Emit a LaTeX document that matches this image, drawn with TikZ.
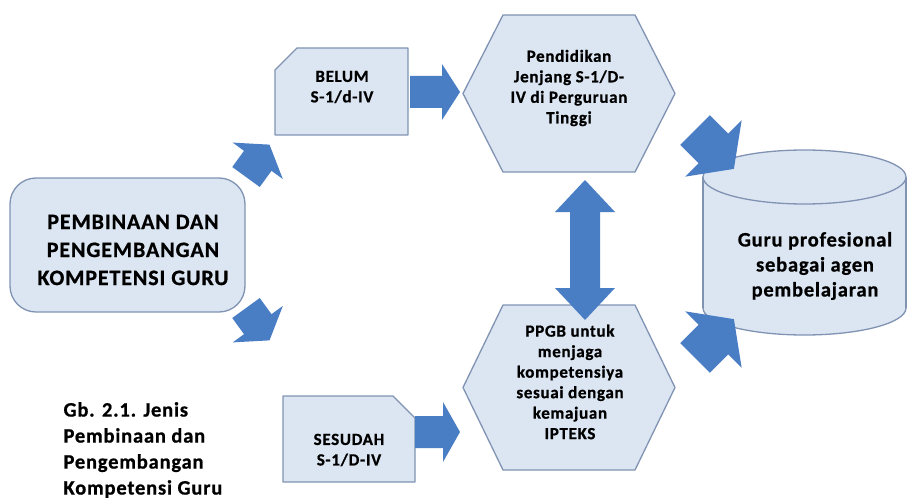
\documentclass[tikz,border=0pt]{standalone}
\usepackage{fontspec}
\setmainfont{Carlito}[BoldFeatures={LetterSpace=4.0, FakeBold=0.8}]
\definecolor{boxfill}{HTML}{DCE6F2}
\definecolor{edgecol}{HTML}{8093B3}
\definecolor{arrowblue}{HTML}{4A7EC4}
% block arrow: #1 tail centre, #2 angle, #3 shaft length, #4 head length,
% #5 shaft half width, #6 head half width
\newcommand{\blockarrow}[6]{%
  \begin{scope}[shift={#1}, rotate=#2]
    \fill[arrowblue] (0,-#5) -- (#3,-#5) -- (#3,-#6) -- ({#3+#4},0)
      -- (#3,#6) -- (#3,#5) -- (0,#5) -- cycle;
  \end{scope}}
\begin{document}
\begin{tikzpicture}[x=1pt,y=-1pt,
  shapeline/.style={draw=edgecol, fill=boxfill, line width=1.3pt, line join=round},
  bigtext/.style={align=center, font=\fontsize{22}{28}\selectfont\bfseries},
  midtext/.style={align=center, font=\fontsize{20.5}{25}\selectfont\bfseries},
  smalltext/.style={align=center, font=\fontsize{17}{20.5}\selectfont\bfseries},
  captext/.style={align=left, font=\fontsize{20.5}{26}\selectfont\bfseries}]
\useasboundingbox (0,0) rectangle (921,500);

% starting box
\node[shapeline, rounded corners=26pt, minimum width=235pt, minimum height=134pt] (start) at (127.5,245) {};
\node[bigtext] (starttext) at (133,250) {PEMBINAAN DAN\\PENGEMBANGAN\\KOMPETENSI GURU};

% "belum" card, top-left corner cut off
\draw[shapeline] (275,70) -- (297,48) -- (408,48) -- (408,135) -- (275,135) -- cycle;
\node[smalltext] (belum) at (342,87) {BELUM\\S-1/d-IV};

% "sesudah" card, top-right corner cut off
\draw[shapeline] (283,396) -- (393,396) -- (415,418) -- (415,482) -- (283,482) -- cycle;
\node[smalltext] (sesudah) at (349,450) {SESUDAH\\S-1/D-IV};

% upper hexagon
\draw[shapeline] (463,93.5) -- (503,15) -- (635,15) -- (675,93.5) -- (635,172) -- (503,172) -- cycle;
\node[smalltext] (pendidikan) at (569,88) {Pendidikan\\Jenjang S-1/D-\\IV di Perguruan\\Tinggi};

% lower hexagon
\draw[shapeline] (463,387.5) -- (503,305) -- (635,305) -- (675,387.5) -- (635,470) -- (503,470) -- cycle;
\node[smalltext] (ppgb) at (570,382) {PPGB untuk\\menjaga\\kompetensiya\\sesuai dengan\\kemajuan\\IPTEKS};

% cylinder
\fill[boxfill, draw=edgecol, line width=1.3pt] (804.5,308) ellipse [x radius=101.5, y radius=27];
\fill[boxfill] (703,177) rectangle (906,308);
\draw[edgecol, line width=1.3pt] (703,177) -- (703,308) (906,177) -- (906,308);
\fill[boxfill, draw=edgecol, line width=1.3pt] (804.5,177) ellipse [x radius=101.5, y radius=27];
\node[midtext] (guru) at (815,266) {Guru profesional\\sebagai agen\\pembelajaran};

% caption
\node[captext, anchor=west] (caption) at (60,450) {Gb. 2.1. Jenis\\Pembinaan dan\\Pengembangan\\Kompetensi Guru};

% block arrows
\blockarrow{(246,177)}{54}{20}{20}{17}{31}
\blockarrow{(246,308)}{-54}{20}{20}{17}{31}
\blockarrow{(410,92)}{0}{32}{18}{16}{28}
\blockarrow{(415,432)}{0}{28}{17}{16}{30}
\blockarrow{(695,130)}{-45}{26}{29}{21}{40}
\blockarrow{(695,358)}{45}{26}{29}{21}{40}

% two-way arrow between the hexagons
\fill[arrowblue] (585,180) -- (615,212) -- (600,212) -- (600,288) -- (615,288)
  -- (585,320) -- (555,288) -- (570,288) -- (570,212) -- (555,212) -- cycle;
\end{tikzpicture}
\end{document}
